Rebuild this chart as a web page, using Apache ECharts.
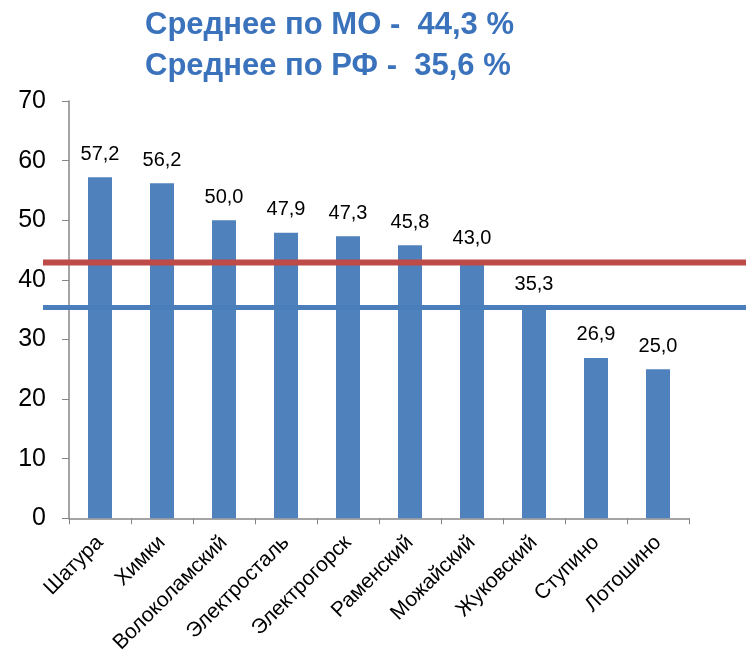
<!DOCTYPE html>
<html>
<head>
<meta charset="utf-8">
<script src="https://cdn.jsdelivr.net/npm/echarts@6/dist/echarts.min.js"></script>
<style>
html,body{margin:0;padding:0;background:#fff;}
#chart{width:746px;height:656px;}
</style>
</head>
<body>
<div id="chart"></div>
<script>
// данные
var districts = ['Шатура','Химки','Волоколамский','Электросталь','Электрогорск','Раменский','Можайский','Жуковский','Ступино','Лотошино'];
var shares = [57.2, 56.2, 50.0, 47.9, 47.3, 45.8, 43.0, 35.3, 26.9, 25.0];
var titleLines = ['Среднее по МО -  44,3 %', 'Среднее по РФ -  35,6 %'];
// уровни линий (как нарисованы на картинке)
var moLevel = 43.1;
var rfLevel = 35.6;
var yMin = 0, yMax = 70, yStep = 10;

var myChart = echarts.init(document.getElementById('chart'));

var titleStyle = { fontFamily : 'Liberation Sans', fontWeight : 'bold', fontSize : 31, color : '#3A72BC' };

var option = {
	animation : false,
	title : [ {
		text : titleLines[0],
		left : 140,
		top : 5,
		textStyle : titleStyle
	}, {
		text : titleLines[1],
		left : 140,
		top : 46,
		textStyle : titleStyle
	} ],
	grid : [ {
		left : 69, right : 57, top : 101, bottom : 135
	}, {
		left : 43, right : 0, top : 101, bottom : 135
	} ],
	xAxis : [ {
		type : 'category',
		data : districts,
		gridIndex : 0,
		axisLine : { lineStyle : { color : '#868686', width : 1.5 } },
		axisTick : { show : true, length : 6, lineStyle : { color : '#868686' } },
		axisLabel : {
			rotate : 45,
			interval : 0,
			margin : 21,
			fontFamily : 'Liberation Sans',
			fontSize : 21,
			color : '#000'
		}
	}, {
		type : 'value',
		gridIndex : 1,
		min : 0, max : 1,
		show : false
	} ],
	yAxis : [ {
		type : 'value',
		gridIndex : 0,
		min : yMin, max : yMax, interval : yStep,
		axisLine : { show : true, lineStyle : { color : '#868686', width : 1.5 } },
		axisTick : { show : true, length : 7, lineStyle : { color : '#868686' } },
		splitLine : { show : false },
		axisLabel : {
			margin : 23,
			fontFamily : 'Liberation Sans',
			fontSize : 25,
			color : '#000'
		}
	}, {
		type : 'value',
		gridIndex : 1,
		min : yMin, max : yMax,
		show : false
	} ],
	series : [ {
		type : 'bar',
		xAxisIndex : 0,
		yAxisIndex : 0,
		barWidth : 24,
		data : shares,
		itemStyle : { color : '#4F81BD' },
		label : {
			show : true,
			position : 'top',
			distance : 13,
			fontFamily : 'Liberation Sans',
			fontSize : 20,
			color : '#000',
			formatter : function (p) { return p.value.toFixed(1).replace('.', ','); }
		}
	}, {
		type : 'line',
		xAxisIndex : 1,
		yAxisIndex : 1,
		symbol : 'none',
		z : 5,
		data : [ [0, rfLevel], [1, rfLevel] ],
		lineStyle : { color : '#4A7EBB', width : 5 }
	}, {
		type : 'line',
		xAxisIndex : 1,
		yAxisIndex : 1,
		symbol : 'none',
		z : 6,
		data : [ [0, moLevel], [1, moLevel] ],
		lineStyle : { color : '#BE4B48', width : 6 }
	} ]
};

myChart.setOption(option);
</script>
</body>
</html>
